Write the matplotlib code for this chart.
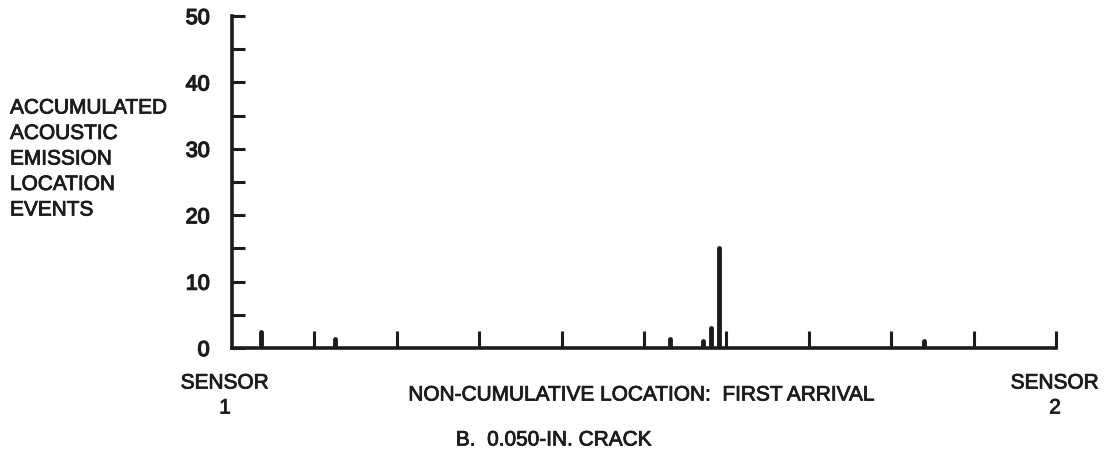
import matplotlib.pyplot as plt
import matplotlib.patheffects as pe
from matplotlib.ticker import MultipleLocator

plt.rcParams["font.family"] = ["Liberation Sans", "DejaVu Sans"]

# event counts per location bin (sensor 1 at 0, sensor 2 at 10)
locations = [0.35, 1.25, 5.32, 5.71, 5.81, 5.91, 8.40]
events = [2.4, 1.4, 1.4, 1, 3, 15, 1]

ylabel_lines = ["ACCUMULATED", "ACOUSTIC", "EMISSION", "LOCATION", "EVENTS"]

ink = "#1c1c1c"
heavy = [pe.withStroke(linewidth=0.6, foreground=ink)]

fig = plt.figure(figsize=(11.06, 4.58), dpi=100)
ax = fig.add_axes([232 / 1106, (458 - 348) / 458, (1056 - 232) / 1106, (348 - 16) / 458])

ax.vlines(locations, 0, events, colors=ink, linewidth=3.5, capstyle="round")

ax.set_xlim(0, 10)
ax.set_ylim(0, 50)

for side in ("top", "right"):
    ax.spines[side].set_visible(False)
for side in ("left", "bottom"):
    ax.spines[side].set_linewidth(2.6)
    ax.spines[side].set_color(ink)
    ax.spines[side].set_capstyle("projecting")

ax.yaxis.set_major_locator(MultipleLocator(10))
ax.yaxis.set_minor_locator(MultipleLocator(5))
ax.tick_params(axis="y", which="both", direction="in", length=9, width=2.2,
               color=ink, labelcolor=ink, pad=16)
ax.tick_params(axis="y", which="major", labelsize=15.5)
ax.set_xticks(range(1, 11))
ax.tick_params(axis="x", direction="in", length=12, width=2.2, color=ink,
               labelbottom=False)
for lab in ax.get_yticklabels():
    lab.set_path_effects([pe.withStroke(linewidth=1.0, foreground=ink)])

txt = dict(color=ink, fontsize=15, transform=fig.transFigure, path_effects=heavy)
for i, line in enumerate(ylabel_lines):
    fig.text(10 / 1106, 1 - (108 + 25.5 * i) / 458, line,
             ha="left", va="center", **txt)
fig.text(225 / 1106, 1 - 383 / 458, "SENSOR", ha="center", va="center", **txt)
fig.text(225 / 1106, 1 - 408 / 458, "1", ha="center", va="center", **txt)
fig.text(1055 / 1106, 1 - 383 / 458, "SENSOR", ha="center", va="center", **txt)
fig.text(1055 / 1106, 1 - 408 / 458, "2", ha="center", va="center", **txt)
fig.text(642 / 1106, 1 - 395 / 458, "NON-CUMULATIVE LOCATION:  FIRST ARRIVAL",
         ha="center", va="center", **txt)
fig.text(554 / 1106, 1 - 440 / 458, "B.  0.050-IN. CRACK",
         ha="center", va="center", **txt)

fig.savefig("out.png", dpi=100)
